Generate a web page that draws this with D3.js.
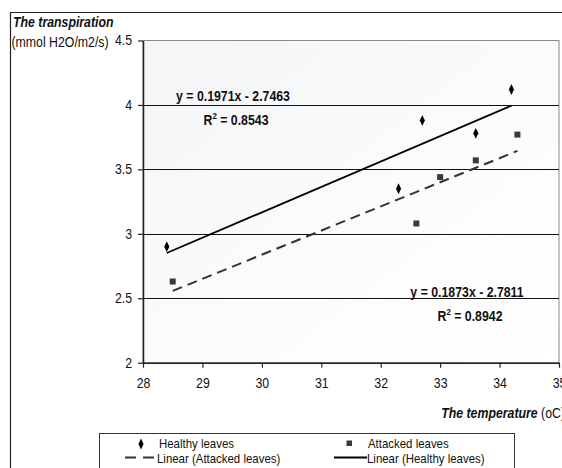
<!DOCTYPE html>
<html>
<head>
<meta charset="utf-8">
<script src="https://cdn.jsdelivr.net/npm/d3@7"></script>
<style>
  html, body { margin: 0; padding: 0; background: #fff; }
  svg { display: block; font-family: "Liberation Sans", Arial, sans-serif; }
</style>
</head>
<body>
<svg id="chart" width="562" height="468"></svg>
<script>
// Transpiration of healthy vs attacked leaves as a function of temperature
const healthyTemp = [28.4, 32.3, 32.7, 33.6, 34.2];
const healthyTransp = [2.90, 3.35, 3.88, 3.78, 4.12];
const attackedTemp = [28.5, 32.6, 33.0, 33.6, 34.3];
const attackedTransp = [2.63, 3.08, 3.44, 3.57, 3.77];

// Linear trend coefficients (slope, intercept) and R² as printed on the chart
const healthyFit = [0.1971, -2.7463];
const attackedFit = [0.1873, -2.7811];
const healthyR2 = "0.8543";
const attackedR2 = "0.8942";

const xTicks = [28, 29, 30, 31, 32, 33, 34, 35];
const yTicks = [2, 2.5, 3, 3.5, 4, 4.5];
const yGrid = [2.5, 3, 3.5, 4];

// Condensed lettering: regular face squeezed horizontally
const FS = 14;
const SX = 0.88;
const place = (x, y) => `translate(${x},${y}) scale(${SX},1)`;

const svg = d3.select("#chart");
const plot = { left: 143, right: 559, top: 40.5, bottom: 362.7 };

const x = d3.scaleLinear().domain([28, 35]).range([plot.left, plot.right]);
const y = d3.scaleLinear().domain([2, 4.5]).range([plot.bottom, plot.top]);

// Outer chart frame
svg.append("path")
  .attr("d", "M10.5,470 V12.5 H570")
  .attr("fill", "none").attr("stroke", "#222").attr("stroke-width", 1.2);

// Plot area background with a faint diagonal shading
const defs = svg.append("defs");
const grad = defs.append("linearGradient").attr("id", "plotBg")
  .attr("x1", "0%").attr("y1", "0%").attr("x2", "100%").attr("y2", "100%");
grad.append("stop").attr("offset", "0%").attr("stop-color", "#f4f5f7");
grad.append("stop").attr("offset", "60%").attr("stop-color", "#fcfcfd");
grad.append("stop").attr("offset", "100%").attr("stop-color", "#ffffff");

svg.append("rect")
  .attr("x", plot.left).attr("y", plot.top)
  .attr("width", plot.right - plot.left).attr("height", plot.bottom - plot.top)
  .attr("fill", "url(#plotBg)").attr("stroke", "#8a8a8a").attr("stroke-width", 1);

// Horizontal gridlines
svg.append("g").selectAll("line").data(yGrid).join("line")
  .attr("x1", plot.left).attr("x2", plot.right)
  .attr("y1", d => Math.round(y(d)) + 0.5).attr("y2", d => Math.round(y(d)) + 0.5)
  .attr("stroke", "#111").attr("stroke-width", 1);

// Axes
const xAxis = d3.axisBottom(x).tickValues(xTicks).tickSize(5).tickSizeOuter(0).tickPadding(10)
  .tickFormat(d3.format("d"));
const gx = svg.append("g").attr("transform", `translate(0,${plot.bottom})`).call(xAxis);
gx.select(".domain").attr("stroke", "#222").attr("stroke-width", 1.5);
gx.selectAll(".tick line").attr("stroke", "#222").attr("stroke-width", 1.2);
gx.selectAll(".tick text").attr("font-size", FS).attr("fill", "#111")
  .attr("font-family", "'Liberation Sans', Arial, sans-serif")
  .attr("transform", `scale(${SX},1)`);

const yAxis = d3.axisLeft(y).tickValues(yTicks).tickSize(5).tickSizeOuter(0).tickPadding(6)
  .tickFormat(d => String(d));
const gy = svg.append("g").attr("transform", `translate(${plot.left},0)`).call(yAxis);
gy.select(".domain").attr("stroke", "#222").attr("stroke-width", 1.5);
gy.selectAll(".tick line").attr("stroke", "#222").attr("stroke-width", 1.2);
gy.selectAll(".tick text").attr("font-size", FS).attr("fill", "#111")
  .attr("font-family", "'Liberation Sans', Arial, sans-serif")
  .attr("x", null).attr("transform", place(-11, 0));

// Trend lines from the fitted equations
function trend(temps, fit) {
  const [x0, x1] = d3.extent(temps);
  return [[x0, fit[0] * x0 + fit[1]], [x1, fit[0] * x1 + fit[1]]];
}
const line = d3.line().x(d => x(d[0])).y(d => y(d[1]));

svg.append("path").datum(trend(healthyTemp, healthyFit))
  .attr("d", line).attr("fill", "none").attr("stroke", "#000").attr("stroke-width", 1.8);
svg.append("path").datum(trend(attackedTemp, attackedFit))
  .attr("d", line).attr("fill", "none").attr("stroke", "#333")
  .attr("stroke-width", 2).attr("stroke-dasharray", "10,6");

// Markers
const diamond = d3.symbol().type(d3.symbolDiamond).size(28);
svg.append("g").selectAll("path").data(d3.zip(healthyTemp, healthyTransp)).join("path")
  .attr("d", diamond)
  .attr("transform", d => `translate(${x(d[0])},${y(d[1])}) scale(0.9,1.1)`)
  .attr("fill", "#000");

svg.append("g").selectAll("rect").data(d3.zip(attackedTemp, attackedTransp)).join("rect")
  .attr("x", d => x(d[0]) - 3).attr("y", d => y(d[1]) - 3)
  .attr("width", 6).attr("height", 6).attr("fill", "#3a3a3a");

// Regression equation labels
function eqLabel(cx, cy, fit, r2) {
  const sign = fit[1] < 0 ? " - " : " + ";
  svg.append("text").attr("transform", place(cx, cy)).attr("text-anchor", "middle")
    .attr("font-size", FS).attr("font-weight", "bold").attr("fill", "#111")
    .text(`y = ${fit[0]}x${sign}${Math.abs(fit[1])}`);
  const t = svg.append("text").attr("transform", place(cx + 3, cy + 24)).attr("text-anchor", "middle")
    .attr("font-size", FS).attr("font-weight", "bold").attr("fill", "#111");
  t.append("tspan").text("R");
  t.append("tspan").attr("font-size", 9).attr("dy", -6).text("2");
  t.append("tspan").attr("dy", 6).text(" = " + r2);
}
eqLabel(233, 101, healthyFit, healthyR2);
eqLabel(467, 297, attackedFit, attackedR2);

// Axis titles
const yTitle = svg.append("g").attr("font-size", FS).attr("fill", "#111");
yTitle.append("text").attr("transform", place(13, 27))
  .attr("font-weight", "bold").attr("font-style", "italic").text("The transpiration");
yTitle.append("text").attr("transform", place(11.5, 46.5)).text("(mmol H2O/m2/s)");

const xTitle = svg.append("text").attr("transform", place(565, 418)).attr("text-anchor", "end")
  .attr("font-size", FS).attr("fill", "#111");
xTitle.append("tspan").attr("font-weight", "bold").attr("font-style", "italic").text("The temperature");
xTitle.append("tspan").text("  (oC)");

// Legend
const LFS = 13;
const legend = svg.append("g");
legend.append("rect").attr("x", 99.5).attr("y", 433.5).attr("width", 415).attr("height", 60)
  .attr("fill", "#fff").attr("stroke", "#333").attr("stroke-width", 1);

legend.append("path").attr("d", diamond)
  .attr("transform", "translate(141,444) scale(0.9,1.1)").attr("fill", "#000");
legend.append("rect").attr("x", 346.5).attr("y", 440.5).attr("width", 5.5).attr("height", 5.5)
  .attr("fill", "#3a3a3a");
legend.append("line").attr("x1", 125).attr("x2", 156).attr("y1", 457.5).attr("y2", 457.5)
  .attr("stroke", "#333").attr("stroke-width", 2).attr("stroke-dasharray", "11,7");
legend.append("line").attr("x1", 334).attr("x2", 367).attr("y1", 457.5).attr("y2", 457.5)
  .attr("stroke", "#000").attr("stroke-width", 1.8);

const legendText = [
  ["Healthy leaves", 159, 448],
  ["Attacked leaves", 368, 448],
  ["Linear (Attacked leaves)", 157, 462.5],
  ["Linear (Healthy leaves)", 367, 462.5]
];
legend.selectAll("text.lt").data(legendText).join("text").attr("class", "lt")
  .attr("transform", d => place(d[1], d[2])).attr("font-size", LFS).attr("fill", "#111")
  .text(d => d[0]);
</script>
</body>
</html>
